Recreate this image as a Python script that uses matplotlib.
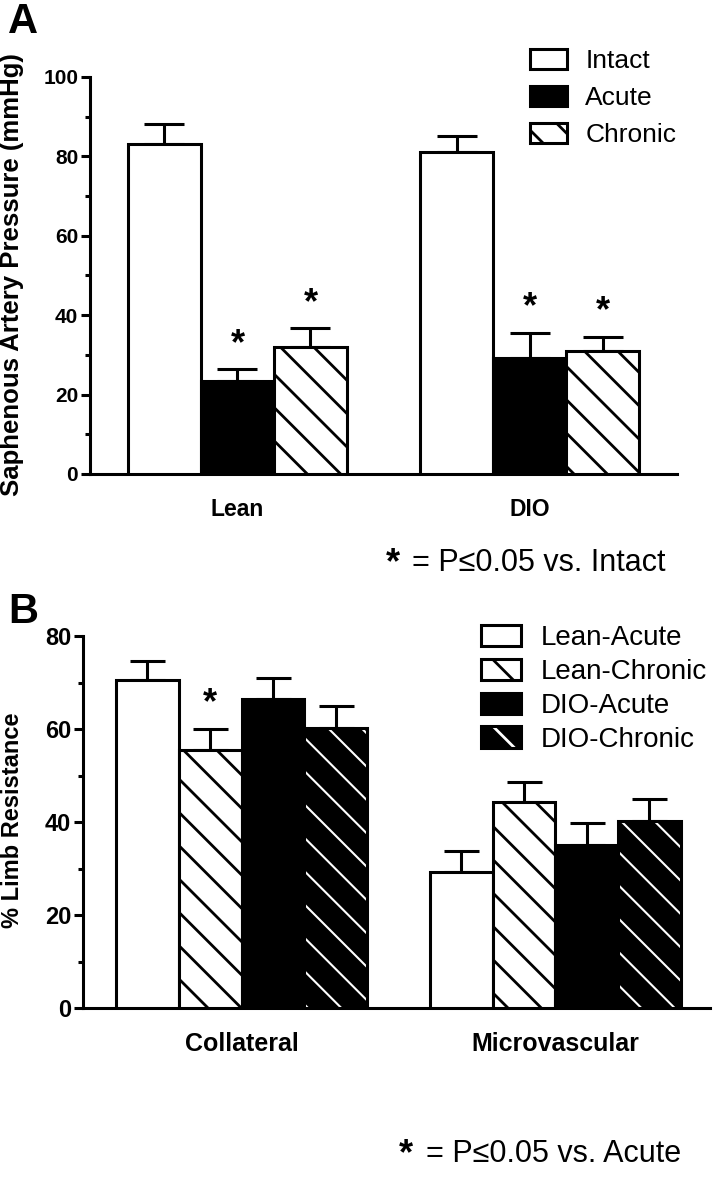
import numpy as np
import matplotlib
matplotlib.use("Agg")
import matplotlib.pyplot as plt
from matplotlib.patches import Patch

plt.rcParams['font.family'] = ['Liberation Sans', 'DejaVu Sans']
plt.rcParams['hatch.linewidth'] = 2.0

# ---- panel A data (mmHg, mean and SEM) ----
groups_a = ['Lean', 'DIO']
series_a = ['Intact', 'Acute', 'Chronic']
intact = [83.1, 81.2]
intact_sem = [5.0, 3.9]
acute = [23.3, 29.3]
acute_sem = [3.1, 6.3]
chronic = [32.1, 31.0]
chronic_sem = [4.6, 3.6]
sig_acute_a = [True, True]
sig_chronic_a = [True, True]
yticks_a = [0, 20, 40, 60, 80, 100]

# ---- panel B data (% limb resistance) ----
groups_b = ['Collateral', 'Microvascular']
series_b = ['Lean-Acute', 'Lean-Chronic', 'DIO-Acute', 'DIO-Chronic']
lean_acute = [70.5, 29.3]
lean_acute_sem = [4.2, 4.5]
lean_chronic = [55.5, 44.3]
lean_chronic_sem = [4.6, 4.3]
dio_acute = [66.4, 35.0]
dio_acute_sem = [4.6, 4.8]
dio_chronic = [60.3, 40.3]
dio_chronic_sem = [4.6, 4.6]
sig_lean_chronic_b = [True, False]
yticks_b = [0, 20, 40, 60, 80]

LW = 2.2
W, H = 713, 1179


def fx(px):
    return px / W


def fy(py):
    return 1 - py / H


def style_axes(ax, yticks, ysize, xsize):
    for s in ['top', 'right']:
        ax.spines[s].set_visible(False)
    for s in ['left', 'bottom']:
        ax.spines[s].set_linewidth(LW)
    ax.set_ylim(yticks[0], yticks[-1])
    ax.set_yticks(yticks)
    minor = [(a + b) / 2 for a, b in zip(yticks[:-1], yticks[1:])]
    ax.set_yticks(minor, minor=True)
    ax.tick_params(axis='y', which='major', length=6.5, width=LW, pad=2, labelsize=ysize)
    ax.tick_params(axis='y', which='minor', length=3.5, width=LW)
    ax.tick_params(axis='x', length=0, pad=17, labelsize=xsize)
    for lab in ax.get_yticklabels() + ax.get_xticklabels():
        lab.set_fontweight('bold')


def draw_bars(ax, x, vals, sem, style, capsize):
    if style == 'white':
        ax.bar(x, vals, width=1.0, facecolor='white', edgecolor='black', linewidth=LW, zorder=3)
    elif style == 'black':
        ax.bar(x, vals, width=1.0, facecolor='black', edgecolor='black', linewidth=LW, zorder=3)
    elif style == 'hatch':
        ax.bar(x, vals, width=1.0, facecolor='white', edgecolor='black', linewidth=LW,
               hatch='\\', zorder=3)
    elif style == 'blackhatch':
        # white hatch on black, then a black outline on top
        plt.rcParams['hatch.linewidth'] = 1.5
        ax.bar(x, vals, width=1.0, facecolor='black', edgecolor='white', linewidth=0,
               hatch='\\', zorder=3)
        plt.rcParams['hatch.linewidth'] = 2.0
        ax.bar(x, vals, width=1.0, facecolor='none', edgecolor='black', linewidth=LW, zorder=4)
    ax.errorbar(x, vals, yerr=[np.zeros(len(vals)), sem], fmt='none', ecolor='black',
                elinewidth=LW, capsize=capsize, capthick=LW, zorder=2)


def add_stars(ax, x, vals, sem, sig, size=26):
    for xi, v, e, s in zip(x, vals, sem, sig):
        if s:
            ax.annotate('*', (xi, v + e), xytext=(0, 11), textcoords='offset points',
                        ha='center', va='baseline', fontsize=size, fontweight='bold')


fig = plt.figure(figsize=(W / 100, H / 100), dpi=100)

# ================= Panel A =================
ax_a = fig.add_axes([fx(90), fy(474), fx(677) - fx(90), fy(77) - fy(474)])
pos_a = np.array([0, 4])
draw_bars(ax_a, pos_a, intact, intact_sem, 'white', 14.4)
draw_bars(ax_a, pos_a + 1, acute, acute_sem, 'black', 14.4)
draw_bars(ax_a, pos_a + 2, chronic, chronic_sem, 'hatch', 14.4)
add_stars(ax_a, pos_a + 1, acute, acute_sem, sig_acute_a)
add_stars(ax_a, pos_a + 2, chronic, chronic_sem, sig_chronic_a)
ax_a.set_xlim(-1.02, 7.02)
ax_a.set_xticks(pos_a + 1)
ax_a.set_xticklabels(groups_a)
style_axes(ax_a, yticks_a, 15, 16.5)

handles_a = [Patch(facecolor='white', edgecolor='black', linewidth=LW),
             Patch(facecolor='black', edgecolor='black', linewidth=LW),
             Patch(facecolor='white', edgecolor='black', linewidth=LW, hatch='\\')]
fig.legend(handles_a, series_a, loc='upper left', bbox_to_anchor=(fx(530), fy(49)),
           frameon=False, fontsize=19, handlelength=1.4, handleheight=0.76,
           handletextpad=0.7, labelspacing=0.5, borderpad=0, borderaxespad=0)

fig.text(fx(12), fy(275), 'Saphenous Artery Pressure (mmHg)', rotation=90,
         ha='center', va='center', fontsize=18.5, fontweight='bold')
fig.text(fx(8), fy(33), 'A', fontsize=30, fontweight='bold', va='baseline')
fig.text(fx(386), fy(573), '*', fontsize=26, fontweight='bold', va='baseline')
fig.text(fx(412), fy(571), '= P\u22640.05 vs. Intact', fontsize=22, va='baseline')

# ================= Panel B =================
ax_b = fig.add_axes([fx(83), fy(1008), fx(710) - fx(83), fy(636) - fy(1008)])
pos_b = np.array([0, 5])
draw_bars(ax_b, pos_b, lean_acute, lean_acute_sem, 'white', 12.6)
draw_bars(ax_b, pos_b + 1, lean_chronic, lean_chronic_sem, 'hatch', 12.6)
draw_bars(ax_b, pos_b + 2, dio_acute, dio_acute_sem, 'black', 12.6)
draw_bars(ax_b, pos_b + 3, dio_chronic, dio_chronic_sem, 'blackhatch', 12.6)
add_stars(ax_b, pos_b + 1, lean_chronic, lean_chronic_sem, sig_lean_chronic_b)
ax_b.set_xlim(-1.026, 8.966)
ax_b.set_xticks(pos_b + 1.5)
ax_b.set_xticklabels(groups_b)
style_axes(ax_b, yticks_b, 17, 18)

handles_b = [Patch(facecolor='white', edgecolor='black', linewidth=LW),
             Patch(facecolor='white', edgecolor='black', linewidth=LW, hatch='\\'),
             Patch(facecolor='black', edgecolor='black', linewidth=LW),
             (Patch(facecolor='black', edgecolor='white', linewidth=0, hatch='\\'),
              Patch(facecolor='none', edgecolor='black', linewidth=LW))]
fig.legend(handles_b, series_b, loc='upper left', bbox_to_anchor=(fx(481), fy(625)),
           frameon=False, fontsize=20, handlelength=1.45, handleheight=0.8,
           handletextpad=0.7, labelspacing=0.27, borderpad=0, borderaxespad=0)

fig.text(fx(13), fy(820), '% Limb Resistance', rotation=90,
         ha='center', va='center', fontsize=17, fontweight='bold')
fig.text(fx(8), fy(623), 'B', fontsize=30, fontweight='bold', va='baseline')
fig.text(fx(399), fy(1164), '*', fontsize=26, fontweight='bold', va='baseline')
fig.text(fx(426), fy(1162), '= P\u22640.05 vs. Acute', fontsize=22, va='baseline')

fig.savefig('out.png', dpi=100)
